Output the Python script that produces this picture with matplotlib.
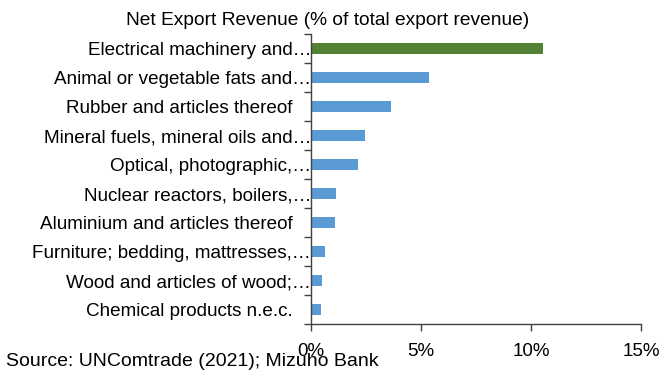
import numpy as np
import matplotlib.pyplot as plt
import matplotlib.transforms as mtransforms

plt.rcParams['font.family'] = ['Liberation Sans', 'DejaVu Sans']

# Top 10 product groups by net export revenue
categories = [
    'Electrical machinery and…',
    'Animal or vegetable fats and…',
    'Rubber and articles thereof',
    'Mineral fuels, mineral oils and…',
    'Optical, photographic,…',
    'Nuclear reactors, boilers,…',
    'Aluminium and articles thereof',
    'Furniture; bedding, mattresses,…',
    'Wood and articles of wood;…',
    'Chemical products n.e.c.',
]
values = [10.55, 5.36, 3.64, 2.45, 2.12, 1.14, 1.10, 0.65, 0.49, 0.45]
x_ticks = [0, 5, 10, 15]
x_tick_labels = ['0%', '5%', '10%', '15%']

colors = ['#548235'] + ['#5B9BD5'] * (len(values) - 1)

fig = plt.figure(figsize=(6.62, 3.70), dpi=100)
ax = fig.add_axes([0.4698, 0.1243, 0.4985, 0.7837])

y = np.arange(len(categories))
ax.barh(y, values, height=0.35, color=colors)

ax.set_ylim(len(categories) - 0.5, -0.5)
ax.set_xlim(0, 15)

# category labels at centres, tick marks at band edges
ax.set_yticks(y)
ax.set_yticklabels(categories, fontsize=13.6)
ax.tick_params(axis='y', length=0, pad=13)
ax.set_yticks(np.arange(len(categories) + 1) - 0.5, minor=True)
ax.tick_params(axis='y', which='minor', length=5, width=1, color='#404040')

# truncated labels run on past the normal right edge
shift = mtransforms.ScaledTranslation(13 / 72, 0, fig.dpi_scale_trans)
for lbl in ax.get_yticklabels():
    if lbl.get_text().endswith('…'):
        lbl.set_transform(lbl.get_transform() + shift)

ax.set_xticks(x_ticks)
ax.set_xticklabels(x_tick_labels, fontsize=13.5)
ax.tick_params(axis='x', length=5, width=1, color='#404040', pad=9)

for side in ['top', 'right']:
    ax.spines[side].set_visible(False)
for side in ['left', 'bottom']:
    ax.spines[side].set_color('#404040')
    ax.spines[side].set_linewidth(1)

fig.text(0.495, 0.945, 'Net Export Revenue (% of total export revenue)',
         fontsize=13.8, ha='center', va='center')
fig.text(0.009, 0.0, 'Source: UNComtrade (2021); Mizuho Bank',
         fontsize=14, ha='left', va='bottom')

fig.savefig('out.png', dpi=100)
